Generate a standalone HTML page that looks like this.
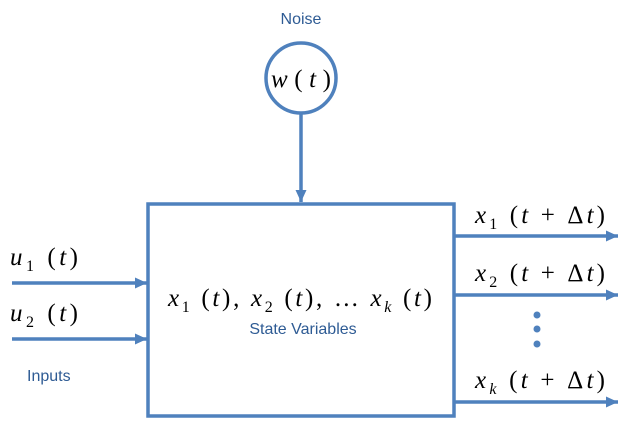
<!DOCTYPE html>
<html><head><meta charset="utf-8"><style>
html,body{margin:0;padding:0;background:#fff;}
svg{display:block}
.m{font-family:"Liberation Serif",serif;font-style:italic;font-size:25px;fill:#000}
.s{font-size:16px;font-style:normal}
.k{font-size:16px;font-style:italic}
.n{font-style:normal}
.l{font-family:"Liberation Sans",sans-serif;font-size:16px;fill:#2e5b94}
</style></head><body>
<svg width="629" height="435" viewBox="0 0 629 435" xmlns="http://www.w3.org/2000/svg">
<defs><marker id="a" markerWidth="13" markerHeight="12" refX="12" refY="6" orient="auto" markerUnits="userSpaceOnUse"><path d="M0,0.5 L12,6 L0,11.5 Z" fill="#4f81bd"/></marker></defs>
<g stroke="#4f81bd" stroke-width="3.5" fill="none">
<rect x="148" y="204" width="306" height="212"/>
<circle cx="301" cy="78" r="35"/>
<line x1="301" y1="114" x2="301" y2="202" marker-end="url(#a)"/>
<line x1="12" y1="283" x2="147" y2="283" marker-end="url(#a)"/>
<line x1="12" y1="339" x2="147" y2="339" marker-end="url(#a)"/>
<line x1="455" y1="236" x2="618" y2="236" marker-end="url(#a)"/>
<line x1="455" y1="295" x2="618" y2="295" marker-end="url(#a)"/>
<line x1="455" y1="402" x2="618" y2="402" marker-end="url(#a)"/>
</g>
<g fill="#4f81bd"><circle cx="537" cy="315" r="3.5"/><circle cx="537" cy="329" r="3.5"/><circle cx="537" cy="344" r="3.5"/></g>
<text class="l" x="301" y="24" text-anchor="middle">Noise</text>
<text class="m" x="271" y="87" textLength="60" lengthAdjust="spacing">w<tspan class="n">(</tspan>t<tspan class="n">)</tspan></text>
<text class="m" x="10" y="265" textLength="68" lengthAdjust="spacing">u<tspan class="s" dy="6">1</tspan><tspan class="n" dy="-6"> (</tspan>t<tspan class="n">)</tspan></text>
<text class="m" x="10" y="321" textLength="68" lengthAdjust="spacing">u<tspan class="s" dy="6">2</tspan><tspan class="n" dy="-6"> (</tspan>t<tspan class="n">)</tspan></text>
<text class="l" x="27" y="381">Inputs</text>
<text class="m" x="168" y="306" textLength="264" lengthAdjust="spacing">x<tspan class="s" dy="6">1</tspan><tspan class="n" dy="-6"> (</tspan>t<tspan class="n">), </tspan>x<tspan class="s" dy="6">2</tspan><tspan class="n" dy="-6"> (</tspan>t<tspan class="n">), … </tspan>x<tspan class="k" dy="6">k</tspan><tspan class="n" dy="-6"> (</tspan>t<tspan class="n">)</tspan></text>
<text class="l" x="303" y="334" text-anchor="middle">State Variables</text>
<text class="m" x="475" y="223" textLength="130" lengthAdjust="spacing">x<tspan class="s" dy="6">1</tspan><tspan class="n" dy="-6"> (</tspan>t<tspan class="n"> + Δ</tspan>t<tspan class="n">)</tspan></text>
<text class="m" x="475" y="281" textLength="130" lengthAdjust="spacing">x<tspan class="s" dy="6">2</tspan><tspan class="n" dy="-6"> (</tspan>t<tspan class="n"> + Δ</tspan>t<tspan class="n">)</tspan></text>
<text class="m" x="475" y="388" textLength="130" lengthAdjust="spacing">x<tspan class="k" dy="6">k</tspan><tspan class="n" dy="-6"> (</tspan>t<tspan class="n"> + Δ</tspan>t<tspan class="n">)</tspan></text>
</svg>
</body></html>
